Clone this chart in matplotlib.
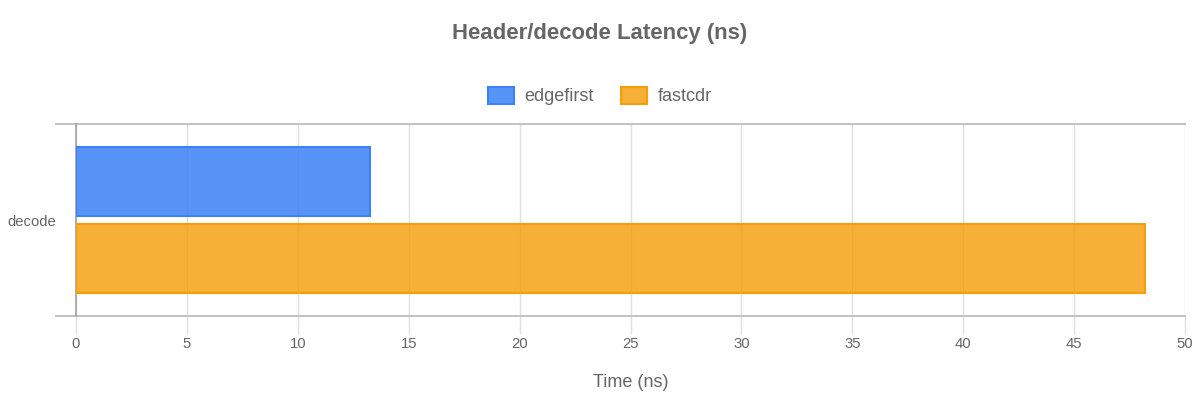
import matplotlib
matplotlib.use("Agg")
import matplotlib.pyplot as plt
from matplotlib.patches import Patch
import numpy as np

plt.rcParams.update({
    "font.family": ["Liberation Sans", "DejaVu Sans"],
    "text.color": "#666666",
    "axes.labelcolor": "#666666",
    "xtick.color": "#666666",
    "ytick.color": "#666666",
})

# ── Data ────────────────────────────────────────────────────────────────
categories = ["decode"]
series_names = ["edgefirst", "fastcdr"]
series_values = {
    "edgefirst": [13.25],
    "fastcdr": [48.2],
}
x_ticks = [0, 5, 10, 15, 20, 25, 30, 35, 40, 45, 50]

C_FILL = {"edgefirst": (59/255, 130/255, 246/255, 0.85),
          "fastcdr": (245/255, 158/255, 11/255, 0.82)}
C_EDGE = {"edgefirst": "#3b82f6", "fastcdr": "#f59e0b"}

fig = plt.figure(figsize=(12, 4), dpi=100)
ax = fig.add_axes([76/1200, 1 - 316/400, (1185 - 76)/1200, (316 - 124)/400])

y = np.arange(len(categories))
bar_h = 0.36
offsets = [-0.2, 0.2]
for name, off in zip(series_names, offsets):
    ax.barh(y + off, series_values[name], height=bar_h,
            color=C_FILL[name], edgecolor=C_EDGE[name], linewidth=1.5, zorder=3)

ax.set_xlim(0, 50)
ax.set_ylim(len(categories) - 0.5, -0.5)
ax.set_xticks(x_ticks)
ax.set_xticklabels([str(t) for t in x_ticks], fontsize=10.7)
ax.set_yticks(y)
ax.set_yticklabels(categories, fontsize=10.7)
ax.tick_params(axis="y", length=0, pad=14.4)
ax.tick_params(axis="x", length=13, width=1, color="#e0e0e0", pad=2)

# vertical grid
ax.grid(axis="x", color="#e0e0e0", linewidth=1, zorder=0)
ax.set_axisbelow(True)

for s in ["top", "bottom", "right"]:
    ax.spines[s].set_visible(False)
ax.spines["left"].set_color("#a8a8a8")
ax.spines["left"].set_linewidth(1.3)

# category boundary lines extending left of the axis
for yb in np.arange(len(categories) + 1) - 0.5:
    ax.plot([-20/1109*50, 50], [yb, yb], color="#c4c4c4", lw=1.5,
            clip_on=False, zorder=1)

ax.set_xlabel("Time (ns)", fontsize=13, labelpad=17)

fig.suptitle("Header/decode Latency (ns)", fontsize=15.9, fontweight="bold",
             color="#666666", y=1 - 33/400, va="center")

handles = [Patch(facecolor=C_FILL[n], edgecolor=C_EDGE[n], linewidth=1.5, label=n)
           for n in series_names]
fig.legend(handles=handles, loc="center", bbox_to_anchor=(0.5, 1 - 96/400),
           ncol=2, frameon=False, fontsize=13, handlelength=1.45, handleheight=1.1,
           columnspacing=1.5, handletextpad=0.6, labelcolor="#666666")

fig.savefig("out.png", dpi=100)
